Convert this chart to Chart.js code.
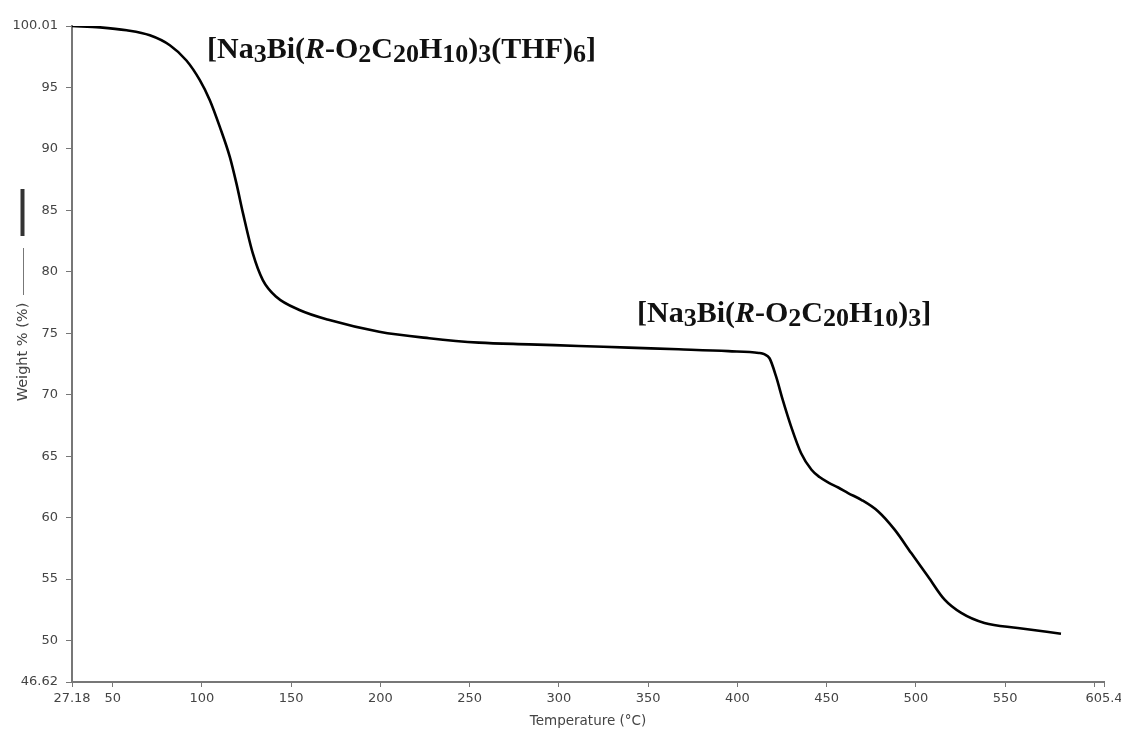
<!DOCTYPE html>
<html><head><meta charset="utf-8">
<script src="https://cdn.jsdelivr.net/npm/chart.js@4.4.1/dist/chart.umd.min.js"></script>
<style>html,body{margin:0;padding:0;background:#fff;}</style>
</head><body>
<canvas id="c" width="1121" height="731" style="display:block"></canvas>
<script>
// Temperature (°C) and weight (%)
const temperatures = [27.18, 42.9, 57.8, 70.8, 82, 91.3, 98.8, 104.4, 110, 115.6, 119.3, 123, 128.5, 134.1, 141.6, 154.6, 171.4, 199.3, 227.3, 255.2, 283.2, 311.1, 339, 367, 395, 412, 415, 418, 421.7, 425.4, 430.1, 435.7, 441.5, 446, 451, 456.5, 462, 469.4, 478.9, 488.2, 497.4, 506.8, 516.1, 525.4, 538.4, 557.1, 581.3];
const weights = [100.01, 99.9, 99.66, 99.25, 98.44, 97.2, 95.6, 93.97, 91.8, 89.36, 87.2, 84.76, 81.5, 79.33, 77.97, 76.9, 76.08, 75.13, 74.6, 74.24, 74.1, 73.97, 73.83, 73.7, 73.55, 73.4, 73.3, 72.97, 71.47, 69.58, 67.41, 65.24, 63.89, 63.3, 62.85, 62.45, 62.0, 61.45, 60.5, 59.0, 57.11, 55.21, 53.32, 52.24, 51.42, 51.02, 50.55];

const xTicks = [27.18, 50, 100, 150, 200, 250, 300, 350, 400, 450, 500, 550, 600, 605.4];
const xTickLabels = ['27.18', '50', '100', '150', '200', '250', '300', '350', '400', '450', '500', '550', '', '605.4'];
const yTicks = [46.62, 50, 55, 60, 65, 70, 75, 80, 85, 90, 95, 100.01];
const yTickLabels = ['46.62', '50', '55', '60', '65', '70', '75', '80', '85', '90', '95', '100.01'];

const xTitle = 'Temperature (°C)';
const yTitle = 'Weight % (%)';

// annotation segments: [text, style]  (n = bold, s = subscript, i = bold italic)
const label1 = [['[Na','n'],['3','s'],['Bi(','n'],['R','i'],['-O','n'],['2','s'],['C','n'],['20','s'],['H','n'],['10','s'],[')','n'],['3','s'],['(THF)','n'],['6','s'],[']','n']];
const label2 = [['[Na','n'],['3','s'],['Bi(','n'],['R','i'],['-O','n'],['2','s'],['C','n'],['20','s'],['H','n'],['10','s'],[')','n'],['3','s'],[']','n']];

const points = temperatures.map((t, i) => ({x: t, y: weights[i]}));

const tickFont = {family: 'DejaVu Sans', size: 13};

function drawRich(ctx, segs, x, y, size) {
  const fam = '"Liberation Serif", "Times New Roman", serif';
  let cx = x;
  ctx.textBaseline = 'alphabetic';
  ctx.textAlign = 'left';
  ctx.fillStyle = '#111';
  for (const [t, st] of segs) {
    let font, dy = 0;
    if (st === 's') { font = 'bold ' + Math.round(size * 0.85) + 'px ' + fam; dy = 4; }
    else if (st === 'i') { font = 'italic bold ' + size + 'px ' + fam; }
    else { font = 'bold ' + size + 'px ' + fam; }
    ctx.font = font;
    ctx.fillText(t, cx, y + dy);
    cx += ctx.measureText(t).width;
  }
}

const overlay = {
  id: 'overlay',
  afterDraw(chart) {
    const ctx = chart.ctx;
    ctx.save();
    ctx.translate(23, 352);
    ctx.rotate(-Math.PI / 2);
    ctx.font = '14.5px "DejaVu Sans"';
    ctx.fillStyle = '#444';
    ctx.textAlign = 'center';
    ctx.textBaseline = 'middle';
    ctx.fillText(yTitle, 0, 0);
    ctx.restore();
    ctx.save();
    ctx.strokeStyle = '#777';
    ctx.lineWidth = 1;
    ctx.beginPath(); ctx.moveTo(23.5, 248); ctx.lineTo(23.5, 295); ctx.stroke();
    ctx.strokeStyle = '#333';
    ctx.lineWidth = 4;
    ctx.beginPath(); ctx.moveTo(22.5, 189); ctx.lineTo(22.5, 236); ctx.stroke();
    drawRich(ctx, label1, 207, 58, 30);
    drawRich(ctx, label2, 637, 322, 30);
    ctx.restore();
  }
};

new Chart(document.getElementById('c'), {
  type: 'scatter',
  data: {
    datasets: [{
      data: points,
      showLine: true,
      borderColor: '#000',
      borderWidth: 2.6,
      pointRadius: 0,
      fill: false,
      cubicInterpolationMode: 'monotone'
    }]
  },
  options: {
    responsive: false,
    animation: false,
    devicePixelRatio: 1,
    layout: {padding: {left: 0, top: 26, right: 17, bottom: 0}},
    plugins: {legend: {display: false}, tooltip: {enabled: false}},
    scales: {
      x: {
        type: 'linear', min: 27.18, max: 605.4,
        afterBuildTicks: s => { s.ticks = xTicks.map(v => ({value: v})); },
        afterFit: s => { s.height = 49; s.paddingLeft = 0; s.paddingRight = 0; },
        ticks: {autoSkip: false, maxRotation: 0, minRotation: 0, padding: 4, color: '#444', font: tickFont,
                callback: (v, i) => xTickLabels[i]},
        grid: {drawOnChartArea: false, drawTicks: true, tickLength: 5, color: '#777', lineWidth: 1},
        border: {display: true, color: '#777', width: 2},
        title: {display: true, text: xTitle, color: '#444', font: {family: 'DejaVu Sans', size: 13.5}, padding: {top: 0, bottom: 1}}
      },
      y: {
        type: 'linear', min: 46.62, max: 100.01,
        afterBuildTicks: s => { s.ticks = yTicks.map(v => ({value: v})); },
        afterFit: s => { s.width = 72; },
        ticks: {autoSkip: false, padding: 8, color: '#444', font: tickFont,
                callback: (v, i) => yTickLabels[i]},
        grid: {drawOnChartArea: false, drawTicks: true, tickLength: 6, color: '#777', lineWidth: 1},
        border: {display: true, color: '#777', width: 2}
      }
    }
  },
  plugins: [overlay]
});
</script>
</body></html>
